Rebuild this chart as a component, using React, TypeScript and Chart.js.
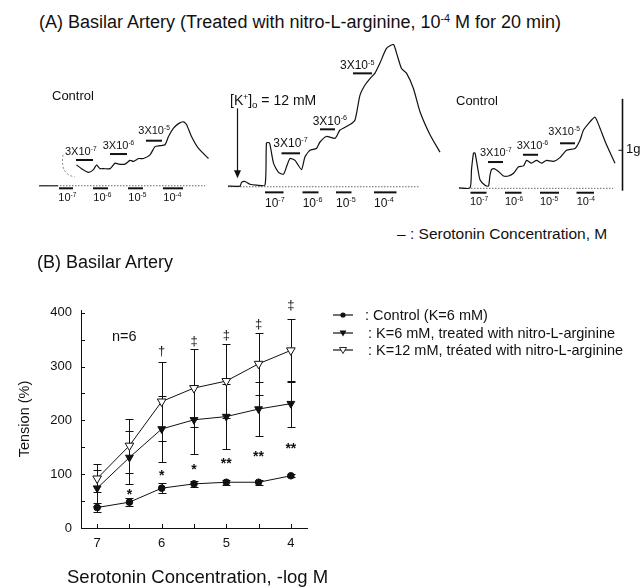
import React, { useEffect, useRef } from "react";
import { Chart, registerables } from "chart.js";

Chart.register(...registerables);

const FONT = '"Liberation Sans", Arial, Helvetica, sans-serif';
const INK = "#111";

// ---------------- Panel B data ----------------
const concLog = [7, 6.5, 6, 5.5, 5, 4.5, 4];
const xTickValues = [7, 6, 5, 4];
const yTickValues = [0, 100, 200, 300, 400];
const yMinorTickValues = [0, 50, 100, 150, 200, 250, 300, 350, 400];
const controlMean = [38, 48, 74, 82, 85, 85, 97];
const controlSem = [9, 7, 9, 6, 5, 5, 3];
const lnaK6Mean = [74, 131, 184, 201, 207, 221, 231];
const lnaK6Sem = [33, 49, 62, 64, 60, 50, 43];
const lnaK12Mean = [92, 153, 235, 260, 273, 305, 330];
const lnaK12Sem = [26, 50, 74, 72, 69, 57, 58];
const daggerMarks = ["", "", "†", "‡", "‡", "‡", "‡"];
const daggerLevel = [0, 0, 328, 347, 357, 378, 413];
const starMarks = ["", "*", "*", "*", "**", "**", "**"];
const starLevel = [0, 67, 103, 115, 125, 138, 153];

// ---------------- Panel A data (time in min, tension in g) ----------------
const trace1LeadTime = [0.8, 4.6];
const trace1LeadTension = [0.014, 0.014];
const trace1FaintTime = [5.6, 5.5, 5.8, 6.8, 8.0];
const trace1FaintTension = [0.35, 0.27, 0.19, 0.13, 0.11];
const trace1Time = [8.3, 9.3, 10.7, 11.7, 12.3, 13.0, 13.7, 15.0, 16.0, 16.7, 18.0, 19.0, 19.7, 20.7, 21.7, 23.0, 24.0, 25.0, 26.0, 26.7, 27.7, 28.7, 29.7, 30.3, 31.3, 32.7, 34.7];
const trace1Tension = [0.24, 0.2, 0.16, 0.19, 0.24, 0.2, 0.2, 0.2, 0.26, 0.25, 0.25, 0.29, 0.28, 0.31, 0.31, 0.35, 0.44, 0.45, 0.46, 0.55, 0.64, 0.69, 0.71, 0.68, 0.55, 0.42, 0.31];
const trace1Baseline = [0.8, 34, 0.014];
const trace1Applications = [[4.8, 7.6], [11.6, 14.6], [18.6, 21.6], [25.6, 29.6]];
const trace1AppLevel = -0.014;
const trace1Steps = [[8.2, 11.6, 0.294], [15.0, 18.4, 0.359], [22.2, 25.4, 0.504]];

const trace2Time = [0.8, 3.2, 3.5, 4.2, 5.2, 6.5, 8.2, 8.5, 9.1, 9.9, 10.9, 11.9, 12.5, 13.2, 14.2, 15.5, 16.2, 17.2, 18.5, 19.2, 20.5, 22.2, 23.2, 25.2, 26.2, 27.2, 28.2, 29.2, 30.2, 31.2, 32.5, 33.9, 34.5, 35.5, 36.5, 37.9, 39.2, 41.2, 43.2];
const trace2Tension = [0.01, 0.01, 0.05, 0.06, 0.03, 0.02, 0.02, 0.48, 0.48, 0.26, 0.16, 0.14, 0.22, 0.31, 0.29, 0.19, 0.33, 0.4, 0.42, 0.49, 0.55, 0.53, 0.62, 0.68, 0.73, 1.0, 1.11, 1.18, 1.24, 1.35, 1.51, 1.55, 1.46, 1.29, 1.24, 1.07, 0.82, 0.57, 0.38];
const trace2Baseline = [0.8, 39.2, 0.003];
const trace2Applications = [[8.2, 11.9], [15.7, 18.9], [22.4, 25.5], [30.0, 34.5]];
const trace2AppLevel = -0.058;
const trace2Steps = [[11.5, 15.2, 0.367], [19.2, 22.2, 0.628], [25.8, 29.6, 1.237]];
const trace2Arrow = [2.54, 0.856, 0.095];

const trace3Time = [0.8, 3.0, 3.3, 3.7, 4.0, 4.5, 5.0, 6.0, 6.7, 7.0, 7.3, 7.8, 8.7, 9.7, 10.7, 11.7, 12.7, 13.7, 14.3, 15.3, 16.3, 17.3, 18.3, 19.7, 21.0, 22.3, 24.0, 25.0, 25.7, 26.7, 28.0, 29.0, 30.3, 32.0];
const trace3Tension = [-0.01, -0.01, 0.19, 0.37, 0.37, 0.22, 0.08, 0.02, 0.01, 0.13, 0.19, 0.2, 0.17, 0.12, 0.12, 0.15, 0.22, 0.23, 0.29, 0.26, 0.29, 0.26, 0.29, 0.28, 0.32, 0.4, 0.42, 0.51, 0.62, 0.69, 0.76, 0.64, 0.46, 0.26];
const trace3Baseline = [0.8, 31.6, -0.014];
const trace3Applications = [[3.1, 6.3], [10.0, 13.3], [17.0, 20.8], [24.3, 27.8]];
const trace3AppLevel = -0.062;
const trace3Steps = [[6.6, 9.6, 0.272], [13.6, 16.6, 0.351], [21.0, 24.0, 0.476]];
const trace3ScaleBar = [33.5, -0.04, 0.96, 32.7, 0.4];

const TRACE_G_MIN = -0.25;
const TRACE_G_MAX = 1.6;

type TraceSpec = {
  left: number;
  width: number;
  tMax: number;
  time: number[];
  tension: number[];
  leadTime?: number[];
  leadTension?: number[];
  faintTime?: number[];
  faintTension?: number[];
  baseline: number[];
  applications: number[][];
  appLevel: number;
  steps: number[][];
  arrow?: number[];
  scaleBar?: number[];
};

const traceSpecs: TraceSpec[] = [
  {
    left: 35, width: 180, tMax: 36,
    time: trace1Time, tension: trace1Tension,
    leadTime: trace1LeadTime, leadTension: trace1LeadTension,
    faintTime: trace1FaintTime, faintTension: trace1FaintTension,
    baseline: trace1Baseline, applications: trace1Applications, appLevel: trace1AppLevel, steps: trace1Steps,
  },
  {
    left: 224, width: 220, tMax: 44,
    time: trace2Time, tension: trace2Tension,
    baseline: trace2Baseline, applications: trace2Applications, appLevel: trace2AppLevel, steps: trace2Steps,
    arrow: trace2Arrow,
  },
  {
    left: 455, width: 175, tMax: 35,
    time: trace3Time, tension: trace3Tension,
    baseline: trace3Baseline, applications: trace3Applications, appLevel: trace3AppLevel, steps: trace3Steps,
    scaleBar: trace3ScaleBar,
  },
];

const xy = (ts: number[], gs: number[]) => ts.map((t, i) => ({ x: t, y: gs[i] }));

function makeTraceMarks(spec: TraceSpec) {
  return {
    id: "traceMarks",
    afterDatasetsDraw(chart: any) {
      const { ctx } = chart;
      const x = chart.scales.x;
      const y = chart.scales.y;
      ctx.save();
      ctx.strokeStyle = INK;
      ctx.fillStyle = INK;
      ctx.lineWidth = 2;
      const seg = (t0: number, t1: number, g: number) => {
        ctx.beginPath();
        ctx.moveTo(x.getPixelForValue(t0), y.getPixelForValue(g));
        ctx.lineTo(x.getPixelForValue(t1), y.getPixelForValue(g));
        ctx.stroke();
      };
      spec.applications.forEach(([a, b]) => seg(a, b, spec.appLevel));
      spec.steps.forEach(([a, b, g]) => seg(a, b, g));
      if (spec.arrow) {
        const [t, g0, g1] = spec.arrow;
        const px = Math.round(x.getPixelForValue(t)) + 0.5;
        const p0 = y.getPixelForValue(g0);
        const p1 = y.getPixelForValue(g1);
        ctx.lineWidth = 1.2;
        ctx.beginPath();
        ctx.moveTo(px, p0);
        ctx.lineTo(px, p1 - 6);
        ctx.stroke();
        ctx.beginPath();
        ctx.moveTo(px - 3.5, p1 - 8);
        ctx.lineTo(px + 3.5, p1 - 8);
        ctx.lineTo(px, p1);
        ctx.closePath();
        ctx.fill();
      }
      if (spec.scaleBar) {
        const [t, g0, g1, tickT, tickG] = spec.scaleBar;
        const px = x.getPixelForValue(t);
        ctx.lineWidth = 1.6;
        ctx.beginPath();
        ctx.moveTo(px, y.getPixelForValue(g0));
        ctx.lineTo(px, y.getPixelForValue(g1));
        ctx.stroke();
        ctx.lineWidth = 1;
        ctx.beginPath();
        ctx.moveTo(x.getPixelForValue(tickT), y.getPixelForValue(tickG));
        ctx.lineTo(px, y.getPixelForValue(tickG));
        ctx.stroke();
      }
      ctx.restore();
    },
  };
}

function TraceChart({ spec }: { spec: TraceSpec }) {
  const ref = useRef<HTMLCanvasElement>(null);
  useEffect(() => {
    if (!ref.current) return;
    const b = spec.baseline;
    const datasets: any[] = [
      {
        data: xy(spec.time, spec.tension),
        borderColor: INK, borderWidth: 1.2, pointRadius: 0, tension: 0.2, clip: false,
      },
      {
        data: [{ x: b[0], y: b[2] }, { x: b[1], y: b[2] }],
        borderColor: "#666", borderWidth: 1, borderDash: [1.5, 1.5], pointRadius: 0, clip: false,
      },
    ];
    if (spec.leadTime && spec.leadTension) {
      datasets.push({
        data: xy(spec.leadTime, spec.leadTension),
        borderColor: INK, borderWidth: 1.2, pointRadius: 0, tension: 0, clip: false,
      });
    }
    if (spec.faintTime && spec.faintTension) {
      datasets.push({
        data: xy(spec.faintTime, spec.faintTension),
        borderColor: "#888", borderWidth: 1, borderDash: [2, 2], pointRadius: 0, tension: 0.3, clip: false,
      });
    }
    const chart = new Chart(ref.current, {
      type: "line",
      data: { datasets },
      options: {
        animation: false,
        responsive: false,
        devicePixelRatio: 1,
        layout: { padding: 0 },
        scales: {
          x: { type: "linear", display: false, min: 0, max: spec.tMax },
          y: { type: "linear", display: false, min: TRACE_G_MIN, max: TRACE_G_MAX },
        },
        plugins: { legend: { display: false }, tooltip: { enabled: false } },
      },
      plugins: [makeTraceMarks(spec)],
    } as any);
    return () => chart.destroy();
  }, [spec]);
  return (
    <canvas
      ref={ref}
      width={spec.width}
      height={170}
      style={{ position: "absolute", left: spec.left, top: 40, width: spec.width, height: 170, display: "block" }}
    />
  );
}

const bPlugin = {
  id: "bExtras",
  beforeDatasetsDraw(chart: any) {
    const { ctx } = chart;
    const x = chart.scales.x;
    const y = chart.scales.y;
    ctx.save();
    ctx.strokeStyle = INK;
    ctx.lineWidth = 1;
    const groups = [
      [controlMean, controlSem],
      [lnaK6Mean, lnaK6Sem],
      [lnaK12Mean, lnaK12Sem],
    ];
    groups.forEach(([m, s]) => {
      concLog.forEach((c, i) => {
        const px = Math.round(x.getPixelForValue(c)) + 0.5;
        const top = Math.round(y.getPixelForValue(m[i] + s[i])) + 0.5;
        const bot = Math.round(y.getPixelForValue(m[i] - s[i])) + 0.5;
        ctx.beginPath();
        ctx.moveTo(px, top);
        ctx.lineTo(px, bot);
        ctx.moveTo(px - 4, top);
        ctx.lineTo(px + 4, top);
        ctx.moveTo(px - 4, bot);
        ctx.lineTo(px + 4, bot);
        ctx.stroke();
      });
    });
    ctx.restore();
  },
  afterDraw(chart: any) {
    const { ctx, chartArea } = chart;
    const x = chart.scales.x;
    const y = chart.scales.y;
    ctx.save();
    ctx.strokeStyle = INK;
    ctx.lineWidth = 1;
    yMinorTickValues.forEach((v) => {
      const py = Math.round(y.getPixelForValue(v)) + 0.5;
      ctx.beginPath();
      ctx.moveTo(chartArea.left, py);
      ctx.lineTo(chartArea.left + 4, py);
      ctx.stroke();
    });
    concLog.forEach((c) => {
      const px = Math.round(x.getPixelForValue(c)) + 0.5;
      ctx.beginPath();
      ctx.moveTo(px, chartArea.bottom);
      ctx.lineTo(px, chartArea.bottom - 4);
      ctx.stroke();
    });
    ctx.fillStyle = INK;
    ctx.textAlign = "center";
    ctx.textBaseline = "alphabetic";
    concLog.forEach((c, i) => {
      const px = x.getPixelForValue(c);
      if (daggerMarks[i]) {
        ctx.font = `13px ${FONT}`;
        ctx.fillText(daggerMarks[i], px, y.getPixelForValue(daggerLevel[i]) + 3.5);
      }
      if (starMarks[i]) {
        ctx.font = `bold 14px ${FONT}`;
        ctx.fillText(starMarks[i], px, y.getPixelForValue(starLevel[i]) + 7.5);
      }
    });
    ctx.restore();
  },
};

function PanelBChart() {
  const ref = useRef<HTMLCanvasElement>(null);
  useEffect(() => {
    if (!ref.current) return;
    const pts = (arr: number[]) => concLog.map((c, i) => ({ x: c, y: arr[i] }));
    const chart = new Chart(ref.current, {
      type: "line",
      data: {
        datasets: [
          {
            label: "Control (K=6 mM)",
            data: pts(controlMean),
            borderColor: INK, borderWidth: 1, tension: 0,
            pointStyle: "circle", pointRadius: 3.3,
            pointBackgroundColor: INK, pointBorderColor: INK, pointBorderWidth: 1,
          },
          {
            label: "K=6 mM, treated with nitro-L-arginine",
            data: pts(lnaK6Mean),
            borderColor: INK, borderWidth: 1, tension: 0,
            pointStyle: "triangle", pointRotation: 180, pointRadius: 4.5,
            pointBackgroundColor: INK, pointBorderColor: INK, pointBorderWidth: 1,
          },
          {
            label: "K=12 mM, tréated with nitro-L-arginine",
            data: pts(lnaK12Mean),
            borderColor: INK, borderWidth: 1, tension: 0,
            pointStyle: "triangle", pointRotation: 180, pointRadius: 5,
            pointBackgroundColor: "#fff", pointBorderColor: INK, pointBorderWidth: 1,
          },
        ],
      },
      options: {
        animation: false,
        responsive: false,
        devicePixelRatio: 1,
        layout: { padding: { top: 20, right: 13, left: 0, bottom: 0 } },
        scales: {
          x: {
            type: "linear",
            reverse: true,
            min: 3.75,
            max: 7.25,
            afterBuildTicks: (s: any) => { s.ticks = xTickValues.map((v) => ({ value: v })); },
            afterFit: (s: any) => { s.height = 60; },
            grid: { display: false, drawTicks: false },
            border: { display: true, color: INK, width: 1 },
            ticks: { color: INK, padding: 8, font: { family: FONT, size: 13 }, callback: (v: any) => String(v) },
            title: { display: false },
          },
          y: {
            type: "linear",
            min: 0,
            max: 405,
            afterBuildTicks: (s: any) => { s.ticks = yTickValues.map((v) => ({ value: v })); },
            afterFit: (s: any) => { s.width = 81; },
            grid: { display: false, drawTicks: false },
            border: { display: true, color: INK, width: 1 },
            ticks: { color: INK, padding: 9, font: { family: FONT, size: 13 }, callback: (v: any) => String(v) },
            title: {
              display: true,
              text: "Tension (%)",
              color: INK,
              font: { family: FONT, size: 14.5 },
              padding: { top: 16, bottom: 0 },
            },
          },
        },
        plugins: { legend: { display: false }, tooltip: { enabled: false } },
      },
      plugins: [bPlugin],
    } as any);
    return () => chart.destroy();
  }, []);
  return (
    <canvas
      ref={ref}
      width={320}
      height={298}
      style={{ position: "absolute", left: 0, top: 290, width: 320, height: 298, display: "block" }}
    />
  );
}

function Txt({ x, b, size, children, style }: { x: number; b: number; size: number; children: any; style?: any }) {
  return (
    <div
      style={{
        position: "absolute",
        left: x,
        top: b - 0.847 * size,
        fontSize: size,
        lineHeight: 1,
        whiteSpace: "nowrap",
        fontFamily: FONT,
        color: INK,
        ...style,
      }}
    >
      {children}
    </div>
  );
}

const Sup = ({ children }: { children: any }) => (
  <span style={{ fontSize: "0.6em", position: "relative", top: "-0.62em" }}>{children}</span>
);
const Sub = ({ children }: { children: any }) => (
  <span style={{ fontSize: "0.7em", position: "relative", top: "0.25em" }}>{children}</span>
);

function LegendMark({ kind }: { kind: "circle" | "down" | "open" }) {
  return (
    <svg width={22} height={10} style={{ position: "absolute", left: 0, top: 0 }}>
      <line x1={1} y1={5} x2={21} y2={5} stroke={INK} strokeWidth={1.2} />
      {kind === "circle" && <circle cx={11} cy={5} r={2.6} fill={INK} />}
      {kind === "down" && <polygon points="7.5,2.5 14.5,2.5 11,8.5" fill={INK} />}
      {kind === "open" && <polygon points="7.5,2.5 14.5,2.5 11,8.5" fill="#fff" stroke={INK} strokeWidth={0.9} />}
    </svg>
  );
}

function LegendRow({ y, kind, textX, text }: { y: number; kind: "circle" | "down" | "open"; textX: number; text: string }) {
  return (
    <>
      <div style={{ position: "absolute", left: 332, top: y - 5, width: 22, height: 10 }}>
        <LegendMark kind={kind} />
      </div>
      <Txt x={textX} b={y + 5} size={14.5}>{text}</Txt>
    </>
  );
}

function StepLabel({ x, b, size, exp }: { x: number; b: number; size: number; exp: string }) {
  return (
    <Txt x={x} b={b} size={size}>
      3X10<Sup>{exp}</Sup>
    </Txt>
  );
}

function ConcLabel({ x, b, size, exp }: { x: number; b: number; size: number; exp: string }) {
  return (
    <Txt x={x} b={b} size={size}>
      10<Sup>{exp}</Sup>
    </Txt>
  );
}

export default function App() {
  return (
    <div
      style={{
        position: "absolute",
        left: 0,
        top: 0,
        width: 643,
        height: 588,
        background: "#fff",
        overflow: "hidden",
        fontFamily: FONT,
      }}
    >
      {traceSpecs.map((s, i) => (
        <TraceChart key={i} spec={s} />
      ))}
      <PanelBChart />

      {/* Panel A text */}
      <Txt x={39} b={28.5} size={18}>
        (A) Basilar Artery (Treated with nitro-L-arginine, 10<Sup>-4</Sup> M for 20 min)
      </Txt>

      <Txt x={52} b={100} size={13}>Control</Txt>
      <StepLabel x={65} b={155} size={11} exp="-7" />
      <StepLabel x={102.7} b={149.3} size={11} exp="-6" />
      <StepLabel x={138.3} b={134} size={11} exp="-5" />
      <ConcLabel x={58.3} b={201.7} size={11} exp="-7" />
      <ConcLabel x={93.3} b={201.7} size={11} exp="-6" />
      <ConcLabel x={128.3} b={201.7} size={11} exp="-5" />
      <ConcLabel x={163.3} b={201.7} size={11} exp="-4" />

      <Txt x={230} b={105} size={14}>
        [K<Sup>+</Sup>]<Sub>o</Sub> = 12 mM
      </Txt>
      <StepLabel x={273.3} b={146.7} size={12} exp="-7" />
      <StepLabel x={312.7} b={125} size={12} exp="-6" />
      <StepLabel x={340} b={69.3} size={12} exp="-5" />
      <ConcLabel x={265} b={206.7} size={12} exp="-7" />
      <ConcLabel x={302.7} b={206.7} size={12} exp="-6" />
      <ConcLabel x={336} b={206.7} size={12} exp="-5" />
      <ConcLabel x={374} b={206.7} size={12} exp="-4" />

      <Txt x={456} b={105} size={13}>Control</Txt>
      <StepLabel x={480} b={156.7} size={11} exp="-7" />
      <StepLabel x={516.7} b={149.3} size={11} exp="-6" />
      <StepLabel x={548.3} b={135} size={11} exp="-5" />
      <ConcLabel x={470} b={205} size={11} exp="-7" />
      <ConcLabel x={505} b={205} size={11} exp="-6" />
      <ConcLabel x={540} b={205} size={11} exp="-5" />
      <ConcLabel x={576.7} b={205} size={11} exp="-4" />
      <Txt x={626} b={153.3} size={13}>1g</Txt>

      <Txt x={397} b={239.5} size={15.5}>– : Serotonin Concentration, M</Txt>

      {/* Panel B text */}
      <Txt x={37} b={268.3} size={18}>(B) Basilar Artery</Txt>
      <Txt x={112} b={341} size={14.5}>n=6</Txt>
      <Txt x={67} b={583.5} size={18.5}>Serotonin Concentration, -log M</Txt>

      <LegendRow y={315} kind="circle" textX={365} text=": Control (K=6 mM)" />
      <LegendRow y={333} kind="down" textX={368} text=": K=6 mM, treated with nitro-L-arginine" />
      <LegendRow y={350} kind="open" textX={368} text=": K=12 mM, tréated with nitro-L-arginine" />
    </div>
  );
}
